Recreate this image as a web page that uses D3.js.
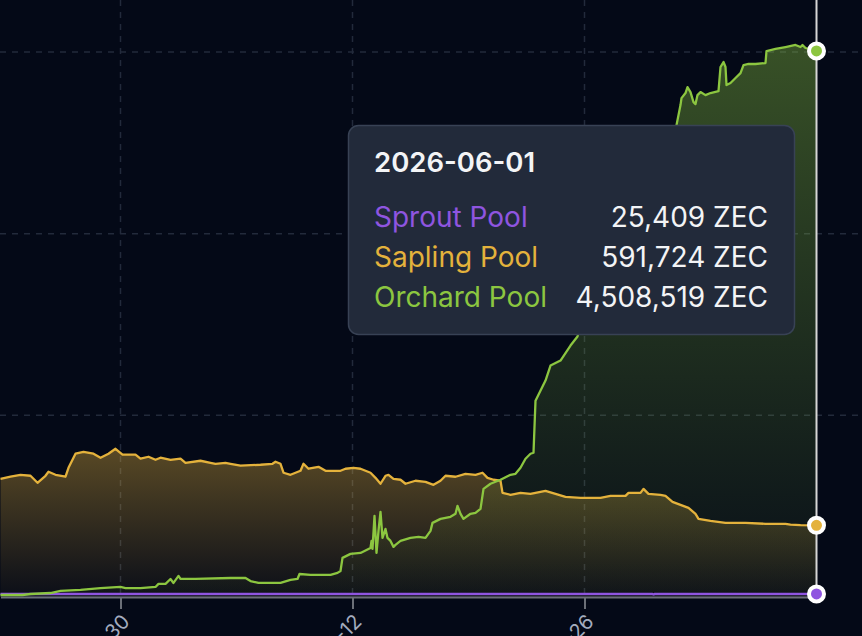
<!DOCTYPE html>
<html><head><meta charset="utf-8">
<script src="https://cdn.jsdelivr.net/npm/d3@7"></script>
<style>
html,body{margin:0;padding:0;background:#040917;overflow:hidden;}
svg{display:block;font-family:Inter,"Noto Sans",sans-serif;}
</style></head>
<body><svg id="c" width="862" height="636"></svg>
<script>
// ---- data ----
const seriesNames = ["Sprout Pool", "Sapling Pool", "Orchard Pool"];
const seriesColors = ["#8f55e0", "#e4b23c", "#8cc640"];
const tickIdx = [60, 176, 292];
const tickLabels = ["2026-03-30", "2026-04-12", "2026-04-26"];
const yGridValues = [1500000, 3000000, 4500000, 6000000];
const hoverIdx = 408;
const hoverDate = "2026-06-01";

const sproutData = [[0,26200],[100,26000],[200,25900],[326,25800],[326.5,21000],[327,25700],[346,25500],[408,25409]];

const saplingData = [[0,976000],[5,993000],[10,1009000],[15,1001000],[18.5,943000],[22.5,1001000],[24,1034000],[27.5,1009000],[32.5,993000],[34,1067000],[37.5,1183000],[41.5,1199000],[46.5,1183000],[50,1150000],[54,1183000],[57.5,1224000],[61,1175000],[67.5,1175000],[70,1142000],[74,1158000],[77.5,1133000],[80,1150000],[85,1133000],[90,1142000],[92.5,1108000],[100,1125000],[105,1108000],[107.5,1100000],[112.5,1108000],[115,1100000],[120,1084000],[130,1092000],[136,1100000],[137.5,1117000],[140,1100000],[141.5,1026000],[145,1009000],[150,1042000],[151.5,1100000],[154,1059000],[159,1075000],[162.5,1042000],[170,1042000],[172.5,1059000],[176.5,1067000],[180,1059000],[185,1026000],[187.5,984000],[190,935000],[192.5,1001000],[194,1009000],[196.5,976000],[200,968000],[202.5,935000],[207.5,960000],[212.5,951000],[216.5,926000],[220,960000],[222.5,1001000],[227.5,993000],[232.5,1017000],[237.5,1009000],[241,1026000],[243.5,984000],[246.5,968000],[250,960000],[251,860000],[255,844000],[260,860000],[265,852000],[272.5,877000],[277.5,852000],[282.5,827000],[290,819000],[300,819000],[305,835000],[312.5,835000],[314,860000],[320,860000],[321.5,893000],[324,852000],[330,844000],[332.5,835000],[336,786000],[340,761000],[344,736000],[347.5,687000],[349,645000],[355,629000],[362.5,612000],[372.5,612000],[382.5,604000],[392.5,604000],[395,598000],[400,593000],[408,591724]];

const orchardData = [[0,16500],[11,16500],[15,24800],[25,33000],[30,50000],[40,58000],[50,74000],[60,83000],[62.5,74000],[70,74000],[77.5,83000],[79,108000],[82.5,108000],[85,149000],[86.5,116000],[89,174000],[90,149000],[97.5,149000],[115,157000],[122.5,157000],[125,132000],[129,116000],[140,116000],[145,141000],[148.5,149000],[149.5,190000],[155,182000],[165,182000],[168.5,199000],[170,215000],[171,323000],[175,356000],[180,364000],[184,397000],[185,405000],[185.5,463000],[186,397000],[187,670000],[188,364000],[189,546000],[190,703000],[191,488000],[192.5,562000],[193.5,488000],[195,463000],[196.5,414000],[197.5,430000],[200,463000],[205,488000],[209,496000],[212.5,488000],[215,546000],[216,612000],[220,645000],[225,662000],[227.5,687000],[228.5,753000],[230,687000],[231.5,645000],[235,687000],[237.5,695000],[240,728000],[241.5,893000],[245,935000],[250,968000],[255,1009000],[257.5,1017000],[260,1067000],[262.5,1142000],[265,1183000],[266.5,1191000],[267.5,1621000],[272.5,1787000],[275,1911000],[280,1952000],[285,2076000],[288.5,2151000],[292.5,2366000],[300,2614000],[310,3028000],[320,3358000],[330,3607000],[337.5,3855000],[340,4062000],[340.5,4119000],[342.5,4161000],[343.5,4210000],[345,4169000],[346.5,4086000],[347.5,4070000],[348.5,4144000],[350,4169000],[352.5,4144000],[355,4161000],[359,4177000],[360,4376000],[361.5,4417000],[362.5,4376000],[363,4227000],[365,4244000],[367.5,4285000],[370,4326000],[371.5,4392000],[374,4401000],[377.5,4401000],[382.5,4409000],[383,4508000],[387.5,4525000],[392.5,4541000],[397.5,4558000],[400,4541000],[401,4558000],[402.5,4533000],[408,4508519]];

const allSeries = [sproutData, saplingData, orchardData];

// ---- chart ----
const svg = d3.select("#c");
const x = d3.scaleLinear().domain([0, 408]).range([0.5, 816.5]);
const y = d3.scaleLinear().domain([0, 4500000]).range([597, 52]);

// grid
const grid = svg.append("g");
grid.selectAll("line.h").data(yGridValues).join("line")
  .attr("x1", 0).attr("x2", 862).attr("y1", d => y(d)).attr("y2", d => y(d))
  .attr("stroke", "#222a3b").attr("stroke-width", 1.5).attr("stroke-dasharray", "6,6");
grid.selectAll("line.v").data(tickIdx).join("line")
  .attr("x1", d => x(d)).attr("x2", d => x(d)).attr("y1", 0).attr("y2", 597)
  .attr("stroke", "#222a3b").attr("stroke-width", 1.5).attr("stroke-dasharray", "6,6");

// gradients
const defs = svg.append("defs");
seriesColors.forEach((c, i) => {
  const g = defs.append("linearGradient").attr("id", "g" + i)
    .attr("x1", 0).attr("y1", 0).attr("x2", 0).attr("y2", 1);
  g.append("stop").attr("offset", "0%").attr("stop-color", c).attr("stop-opacity", 0.38);
  g.append("stop").attr("offset", "100%").attr("stop-color", c).attr("stop-opacity", 0.03);
});

const area = d3.area().x(d => x(d[0])).y0(y(0)).y1(d => y(d[1]));
const line = d3.line().x(d => x(d[0])).y(d => y(d[1]));

allSeries.forEach((s, i) => {
  svg.append("path").datum(s).attr("d", area).attr("fill", `url(#g${i})`);
});

// axis
const axis = d3.axisBottom(x).tickValues(tickIdx).tickFormat((d, i) => tickLabels[i]).tickSize(12).tickSizeOuter(0);
const ax = svg.append("g").attr("transform", "translate(0,597)").call(axis);
ax.select(".domain").attr("stroke", "#6b6f78").attr("stroke-width", 2);
ax.selectAll(".tick line").attr("stroke", "#6b6f78").attr("stroke-width", 2);
ax.selectAll(".tick text")
  .attr("fill", "#a3acbf").attr("font-size", 20).attr("font-family", "Inter")
  .attr("text-anchor", "end").attr("y", 0).attr("dy", "0.35em")
  .attr("transform", "translate(5,21) rotate(-45)");

allSeries.forEach((s, i) => {
  svg.append("path").datum(s).attr("d", line).attr("fill", "none")
    .attr("stroke", seriesColors[i]).attr("stroke-width", 2.3).attr("stroke-linejoin", "round");
});

// hover line + markers
svg.append("line").attr("x1", x(hoverIdx)).attr("x2", x(hoverIdx)).attr("y1", 0).attr("y2", 597)
  .attr("stroke", "#d6d6d6").attr("stroke-width", 2);
allSeries.forEach((s, i) => {
  const last = s[s.length - 1];
  svg.append("circle").attr("cx", x(last[0])).attr("cy", y(last[1])).attr("r", 7.5)
    .attr("fill", seriesColors[i]).attr("stroke", "#ffffff").attr("stroke-width", 4);
});

// tooltip
const tip = svg.append("g");
tip.append("rect").attr("x", 348.5).attr("y", 125.5).attr("width", 446).attr("height", 209)
  .attr("rx", 10).attr("fill", "#222a3a").attr("stroke", "#384255").attr("stroke-width", 1.5);
tip.append("text").attr("x", 374).attr("y", 172).attr("fill", "#f3f4f6")
  .attr("font-size", 27.5).attr("font-weight", 600).text(hoverDate);
const fmt = d3.format(",");
allSeries.forEach((s, i) => {
  const v = s[s.length - 1][1];
  const yy = 227 + i * 40;
  tip.append("text").attr("x", 374).attr("y", yy).attr("fill", seriesColors[i])
    .attr("font-size", 28).text(seriesNames[i]);
  tip.append("text").attr("x", 768).attr("y", yy).attr("fill", "#f3f4f6")
    .attr("font-size", 28).attr("text-anchor", "end").text(fmt(v) + " ZEC");
});
</script></body></html>
